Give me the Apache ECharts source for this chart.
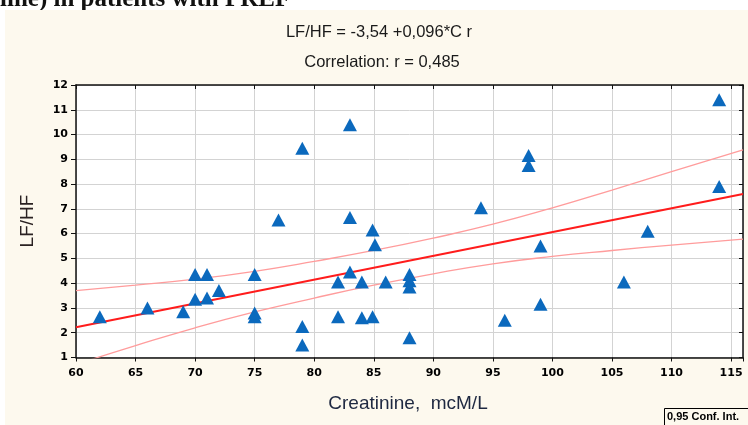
<!DOCTYPE html>
<html>
<head>
<meta charset="utf-8">
<script src="https://cdn.jsdelivr.net/npm/echarts@6/dist/echarts.min.js"></script>
<style>
html,body{margin:0;padding:0;background:#fff;}
#chart{width:748px;height:425px;}
</style>
</head>
<body>
<div id="chart"></div>
<script>
// Scatter points
var creatinine = [62, 66, 69, 70, 70, 71, 71, 72, 75, 75, 75, 77, 79, 79, 79, 82, 82, 83, 83, 83, 84, 84, 84.9, 85.1, 84.9, 86, 88, 88, 88, 88, 94, 96, 98, 98, 99, 99, 106, 108, 114, 114];
var lfhf       = [2.65, 3.0, 2.85, 4.35, 3.35, 4.35, 3.4, 3.7, 4.35, 2.65, 2.8, 6.55, 9.45, 2.25, 1.5, 4.05, 2.65, 10.4, 6.65, 4.45, 2.6, 4.05, 6.15, 5.55, 2.65, 4.05, 4.35, 4.1, 3.85, 1.8, 7.05, 2.5, 9.15, 8.75, 5.5, 3.15, 4.05, 6.1, 11.4, 7.9];

// Regression line endpoints
var regX = [60, 116];
var regY = [2.22, 7.60];

// 0.95 confidence band
var bandX     = [60, 65, 70, 75, 80, 85, 90, 95, 100, 105, 110, 116];
var bandUpper = [3.70, 3.92, 4.16, 4.48, 4.88, 5.32, 5.82, 6.38, 7.04, 7.76, 8.50, 9.38];
var bandLower = [0.72, 1.48, 2.20, 2.84, 3.40, 3.92, 4.38, 4.78, 5.08, 5.32, 5.54, 5.78];

// Axis ticks
var xMin = 60, xMax = 116, xStep = 5;
var yMin = 1, yMax = 12, yStep = 1;

var titleLine1 = 'LF/HF = -3,54 +0,096*C r';
var titleLine2 = 'Correlation: r = 0,485';
var xName = 'Creatinine,  mcM/L';
var yName = 'LF/HF';
var headerText = 'line) in patients with PREF';
var confText = '0,95 Conf. Int.';

function zip(a, b) { return a.map(function (v, i) { return [v, b[i]]; }); }

var tickFont = { fontFamily: 'DejaVu Sans', fontWeight: 'bold', fontSize: 11, color: '#000' };
var borderLine = { show: true, onZero: false, lineStyle: { color: '#111', width: 1.5 } };
var gridLine = { show: true, lineStyle: { color: '#d3d3d3', width: 1 } };

var option = {
  animation: false,
  backgroundColor: '#ffffff',
  grid: { left: 76, top: 85, width: 667, height: 272.5, show: false },
  xAxis: [
    { type: 'value', min: xMin, max: xMax, interval: xStep, position: 'bottom',
      axisLine: borderLine, axisTick: { show: true, length: 4, lineStyle: { color: '#111' } },
      axisLabel: Object.assign({ margin: 10, formatter: function (v) { return v % 5 === 0 ? String(v) : ''; } }, tickFont),
      splitLine: gridLine },
    { type: 'value', min: xMin, max: xMax, interval: xStep, position: 'top',
      axisLine: borderLine, axisTick: { show: true, inside: true, length: 4, lineStyle: { color: '#111' } },
      axisLabel: { show: false }, splitLine: { show: false } }
  ],
  yAxis: [
    { type: 'value', min: yMin, max: yMax, interval: yStep, position: 'left',
      axisLine: borderLine, axisTick: { show: true, length: 5, lineStyle: { color: '#111' } },
      axisLabel: Object.assign({ margin: 8 }, tickFont),
      splitLine: gridLine },
    { type: 'value', min: yMin, max: yMax, interval: yStep, position: 'right',
      axisLine: borderLine, axisTick: { show: true, inside: true, length: 4, lineStyle: { color: '#111' } },
      axisLabel: { show: false }, splitLine: { show: false } }
  ],
  graphic: [
    { type: 'text', z: -9, x: 0, y: -0.5, style: { text: headerText, font: 'bold 25px "Liberation Serif"', fill: '#111', verticalAlign: 'middle', align: 'left' } },
    { type: 'rect', z: -8, shape: { x: 5, y: 10, width: 743, height: 415 }, style: { fill: '#fdf9ee' } },
    { type: 'rect', z: -7, shape: { x: 76, y: 85, width: 667, height: 272.5 }, style: { fill: '#ffffff' } },
    { type: 'text', z: 10, x: 379, y: 32, style: { text: titleLine1, font: '16.5px "Liberation Sans"', fill: '#1a1a1a', align: 'center', verticalAlign: 'middle' } },
    { type: 'text', z: 10, x: 382, y: 62, style: { text: titleLine2, font: '16.5px "Liberation Sans"', fill: '#1a1a1a', align: 'center', verticalAlign: 'middle' } },
    { type: 'text', z: 10, x: 28, y: 221, rotation: Math.PI / 2, style: { text: yName, font: '19px "Liberation Sans"', fill: '#2a2222', align: 'center', verticalAlign: 'middle' } },
    { type: 'text', z: 10, x: 408, y: 404, style: { text: xName, font: '19px "Liberation Sans"', fill: '#1e2840', align: 'center', verticalAlign: 'middle' } },
    { type: 'rect', z: 10, shape: { x: 664.5, y: 408.5, width: 90, height: 20 }, style: { fill: '#fdf9ee', stroke: '#000', lineWidth: 1 } },
    { type: 'text', z: 11, x: 667, y: 417, style: { text: confText, font: 'bold 11px "Liberation Sans"', fill: '#000', align: 'left', verticalAlign: 'middle' } }
  ],
  series: [
    { type: 'line', name: 'upper', data: zip(bandX, bandUpper), smooth: true, showSymbol: false, clip: true, z: 3,
      lineStyle: { color: '#ff9c9c', width: 1.3 } },
    { type: 'line', name: 'lower', data: zip(bandX, bandLower), smooth: true, showSymbol: false, clip: true, z: 3,
      lineStyle: { color: '#ff9c9c', width: 1.3 } },
    { type: 'line', name: 'fit', data: zip(regX, regY), showSymbol: false, clip: true, z: 4,
      lineStyle: { color: '#ff1c1c', width: 2 } },
    { type: 'scatter', name: 'points', data: zip(creatinine, lfhf), symbol: 'triangle', symbolSize: [14, 13], z: 6,
      itemStyle: { color: '#0b69bd', opacity: 1 } }
  ]
};

var chart = echarts.init(document.getElementById('chart'), null, { renderer: 'canvas' });
chart.setOption(option);
</script>
</body>
</html>
